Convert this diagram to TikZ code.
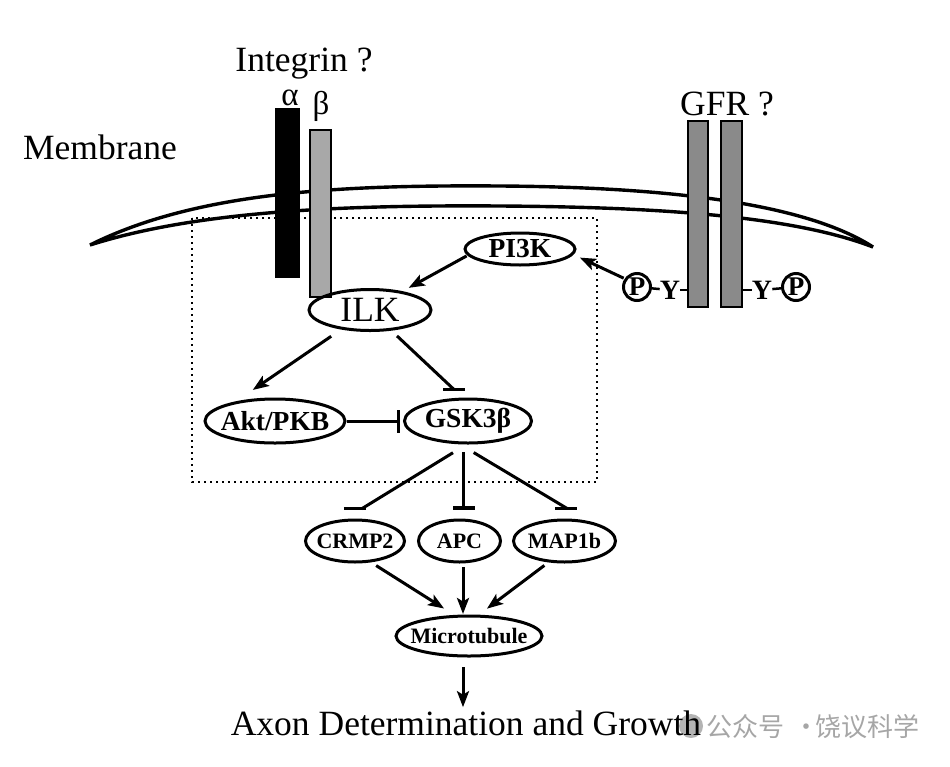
\documentclass[tikz,border=0pt]{standalone}
\usepackage{fontspec}
\setmainfont{Liberation Serif}
\newfontfamily\cjkfont{Noto Sans CJK SC}
\usetikzlibrary{arrows.meta,shapes.geometric,calc}
\definecolor{betagray}{HTML}{A8A8A8}
\definecolor{gfrgray}{HTML}{8A8A8A}
\definecolor{wmgray}{HTML}{A6A6A6}
\begin{document}
\begin{tikzpicture}[x=1pt,y=-1pt,
  el/.style={ellipse, draw, line width=3pt, inner sep=0pt},
  conn/.style={line width=3pt},
  arr/.style={conn, -{Stealth[length=16pt,width=12pt,inset=3.5pt]}},
  inh/.style={line width=3.5pt},
  big/.style={font=\fontsize{35.5}{42}\selectfont, inner sep=0pt},
  greek/.style={font=\fontsize{33}{38}\selectfont, inner sep=0pt},
  lblA/.style={font=\bfseries\fontsize{27.5}{30}\selectfont, inner sep=0pt},
  lblB/.style={font=\bfseries\fontsize{22}{24}\selectfont, inner sep=0pt},
  smallb/.style={font=\bfseries\fontsize{28}{30}\selectfont, inner sep=0pt},
  barnode/.style={rectangle, draw, line width=2pt, inner sep=0pt, outer sep=0pt},
  pcirc/.style={circle, draw, line width=3pt, inner sep=0pt, minimum size=27pt, font=\bfseries\fontsize{27}{29}\selectfont},
]
\useasboundingbox (0,0) rectangle (950,766);

% membrane
\draw[line width=3.4pt, line join=miter]
  (90,245) .. controls (200,190) and (350,185) .. (500,186)
           .. controls (650,187) and (800,200) .. (873,247)
           .. controls (790,215) and (650,207) .. (500,206)
           .. controls (350,205) and (200,210) .. (90,245) -- cycle;

% dotted box
\draw[line width=2pt, dash pattern=on 2pt off 4pt] (192,218) rectangle (597,482);

% receptors
\node[barnode, fill=black, minimum width=23pt, minimum height=168pt] (ita) at (287.5,193) {};
\node[barnode, fill=betagray, minimum width=21pt, minimum height=167pt] (itb) at (320.5,213.5) {};
\node[barnode, fill=gfrgray, minimum width=20pt, minimum height=186pt] (gfrl) at (698,214) {};
\node[barnode, fill=gfrgray, minimum width=21pt, minimum height=186pt] (gfrr) at (731.5,214) {};

% texts
\node[big, anchor=base] (integrin) at (304,71) {Integrin ?};
\node[greek, anchor=base] (alpha) at (290,105) {α};
\node[greek, anchor=base] (beta) at (321,114) {β};
\node[big, anchor=base] (membrane) at (100,159) {Membrane};
\node[big, anchor=base] (gfr) at (727,115) {GFR ?};

% ellipses
\node[el, minimum width=110pt, minimum height=32pt, label={[lblA]center:PI3K}] (pi3k) at (520,249) {};
\node[el, minimum width=122pt, minimum height=41pt, label={[big]center:ILK}] (ilk) at (370,310) {};
\node[el, minimum width=140pt, minimum height=44pt, label={[lblA]center:Akt/PKB}] (akt) at (275,421) {};
\node[el, minimum width=127pt, minimum height=44pt, label={[lblA]center:GSK3β}] (gsk) at (468,421) {};
\node[el, minimum width=99pt, minimum height=42pt, label={[lblB]center:CRMP2}] (crmp) at (355,541) {};
\node[el, minimum width=82pt, minimum height=42pt, label={[lblB]center:APC}] (apc) at (459.5,541) {};
\node[el, minimum width=102pt, minimum height=42pt, label={[lblB]center:MAP1b}] (map) at (564.5,541) {};
\node[el, minimum width=146pt, minimum height=40pt, label={[lblB]center:Microtubule}] (micro) at (469,636) {};

% phospho-tyrosines
\node[pcirc] (pl) at (637,287) {P};
\node[smallb] (yl) at (670,290) {Y};
\node[pcirc] (pr) at (796,287) {P};
\node[smallb] (yr) at (762,290) {Y};
\draw[line width=2.5pt] (pl) -- (yl);
\draw[line width=2.5pt] (yl.east) -- (yl.east -| gfrl.west);
\draw[line width=2.5pt] (yr.west -| gfrr.east) -- (yr.west);
\draw[line width=2.5pt] (yr) -- (pr);

% watermark icon + bottom text
\node[circle, fill=wmgray, opacity=0.85, minimum size=24pt, inner sep=0pt] (wmicon) at (691,726) {};
\node[big, anchor=base] (axon) at (466,735) {Axon Determination and Growth};
\node[font=\cjkfont\fontsize{26}{30}\selectfont, text=wmgray, anchor=west, inner sep=0pt] (wm) at (706,727) {公众号\hspace{9pt}·\hspace{-4pt}饶议科学};

\coordinate (spine) at (463,0);

% activating arrows
\draw[arr, shorten <=1pt, shorten >=7pt] (pl.146) -- (pi3k.-6);
\draw[arr, shorten <=1pt, shorten >=7pt] (pi3k.187) -- (ilk.30);
\draw[arr, shorten <=12pt, shorten >=20pt] (ilk.214) -- (akt.153);
\draw[arr, shorten <=6pt, shorten >=12pt] (crmp.-53) -- (micro.125);
\draw[arr, shorten <=3.5pt, shorten >=0.5pt] (apc.south -| spine) -- (micro.north -| spine);
\draw[arr, shorten <=5pt, shorten >=10pt] (map.233) -- (micro.65);
\draw[arr, shorten <=9.5pt, shorten >=3pt] (micro.south -| spine) -- (axon.north -| spine);

% inhibitions
\coordinate (b1) at ($(gsk.103)!11.7pt!(ilk.-44)$);
\draw[conn, shorten <=7.7pt] (ilk.-44) -- (b1);
\draw[inh] ([xshift=-11pt]b1) -- ([xshift=11pt]b1);

\coordinate (b2) at ($(gsk.west)+(-4.5,0)$);
\draw[conn] (akt.east) -- (b2);
\draw[inh] ([yshift=-11.5pt]b2) -- ([yshift=11.5pt]b2);

\coordinate (b3) at ($(crmp.114)!19.5pt!(gsk.266)$);
\draw[conn, shorten <=15.7pt] (gsk.266) -- (b3);
\draw[inh] ([xshift=-18pt]b3) -- ([xshift=4pt]b3);

\coordinate (b4) at ($(apc.north -| spine)+(0,-10.5)$);
\draw[conn, shorten <=7.5pt] (gsk.south -| spine) -- (b4);
\draw[inh] ([xshift=-10pt]b4) -- ([xshift=12pt]b4);

\coordinate (b5) at ($(map.41)!23.8pt!(gsk.251)$);
\draw[conn, shorten <=16pt] (gsk.251) -- (b5);
\draw[inh] ([xshift=-12pt]b5) -- ([xshift=10pt]b5);
\end{tikzpicture}
\end{document}
